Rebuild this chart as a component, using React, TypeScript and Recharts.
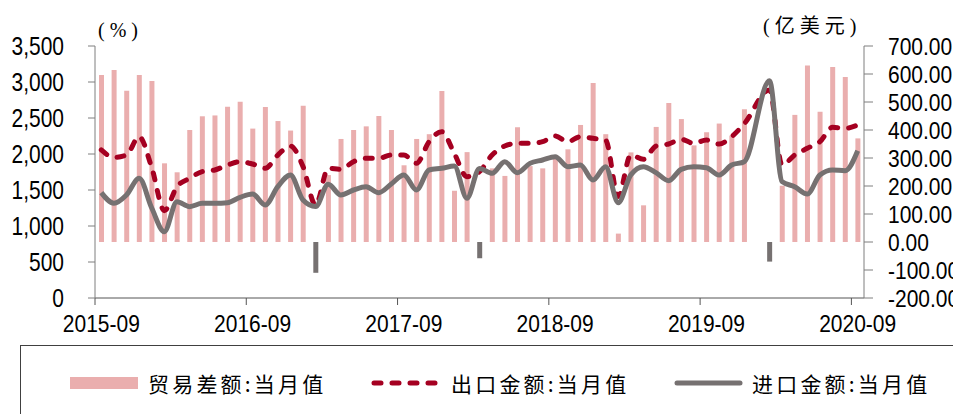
import React from "react";
import { ComposedChart, Bar, Line, XAxis, YAxis, Cell } from "recharts";

const months: string[] = [
  "2015-09","2015-10","2015-11","2015-12","2016-01","2016-02","2016-03","2016-04","2016-05","2016-06","2016-07","2016-08",
  "2016-09","2016-10","2016-11","2016-12","2017-01","2017-02","2017-03","2017-04","2017-05","2017-06","2017-07","2017-08",
  "2017-09","2017-10","2017-11","2017-12","2018-01","2018-02","2018-03","2018-04","2018-05","2018-06","2018-07","2018-08",
  "2018-09","2018-10","2018-11","2018-12","2019-01","2019-02","2019-03","2019-04","2019-05","2019-06","2019-07","2019-08",
  "2019-09","2019-10","2019-11","2019-12","2020-01","2020-02","2020-03","2020-04","2020-05","2020-06","2020-07","2020-08",
  "2020-09",
];

// 贸易差额:当月值 (亿美元, right axis)
const balance: (number | null)[] = [
  596, 614, 540, 596, 575, 281, 249, 400, 449, 452, 483, 501,
  405, 482, 432, 398, 487, -110, 239, 368, 400, 413, 450, 400,
  274, 368, 385, 539, 183, 321, -58, 263, 236, 410, 271, 263,
  310, 331, 418, 568, 385, 30, 320, 131, 411, 496, 439, 345,
  392, 423, 380, 474, null, -70, 201, 454, 630, 465, 625, 589,
  370,
];

// 出口金额:当月值 (left axis)
const exportsV: (number | null)[] = [
  2056, 1954, 1986, 2241, 1810, 1213, 1546, 1662, 1755, 1778, 1847, 1893,
  1861, 1801, 1986, 2111, 1826, 1290, 1801, 1787, 1893, 1940, 1940, 1986,
  1986, 1870, 2171, 2310, 2009, 1685, 1755, 1986, 2111, 2148, 2148, 2171,
  2250, 2171, 2241, 2218, 2194, 1410, 1986, 1926, 2111, 2139, 2204, 2148,
  2194, 2139, 2241, 2420, null, 2889, 1847, 1986, 2079, 2171, 2370, 2357,
  2403,
];

// 进口金额:当月值 (left axis)
const importsV: (number | null)[] = [
  1463, 1315, 1431, 1662, 1250, 921, 1338, 1269, 1315, 1315, 1324, 1398,
  1444, 1292, 1546, 1708, 1360, 1270, 1580, 1431, 1500, 1546, 1463, 1583,
  1708, 1500, 1778, 1801, 1833, 1384, 1800, 1731, 1893, 1741, 1870, 1917,
  1963, 1824, 1847, 1639, 1824, 1324, 1710, 1824, 1741, 1630, 1787, 1824,
  1810, 1708, 1847, 1893, null, 3019, 1616, 1546, 1444, 1708, 1778, 1768,
  2046,
];

const leftTicks = [0, 500, 1000, 1500, 2000, 2500, 3000, 3500];
const rightTicks = [-200, -100, 0, 100, 200, 300, 400, 500, 600, 700];

const data = months.map((m, i) => ({
  month: m,
  balance: balance[i],
  exp: exportsV[i],
  imp: importsV[i],
}));

const W = 953;
const H = 406;
const LEFT_W = 87;
const RIGHT_W = 97;
const PLOT_W = W - LEFT_W - RIGHT_W;
const HALF_BAND = PLOT_W / months.length / 2;

const BAR_C = "#EAAEAE";
const NEG_C = "#767171";
const EXP_C = "#A50021";
const IMP_C = "#767171";
const AXIS_Y = "#7f7f7f";
const AXIS_X = "#555555";
const NUM_FONT = "'Liberation Sans', Arial, sans-serif";
const CJK_FONT = "'Liberation Serif', 'Noto Sans CJK SC', serif";

const XTick = (props: any) => {
  const { x, y, payload } = props;
  return (
    <g>
      <line x1={x - HALF_BAND} x2={x - HALF_BAND} y1={y} y2={y + 7} stroke={AXIS_X} strokeWidth={1} />
      <text
        transform={`translate(${x},${y + 26}) scale(1,1.12)`}
        textAnchor="middle"
        dy="0.36em"
        fontSize={21}
        fontFamily={NUM_FONT}
        fill="#000"
      >
        {payload.value}
      </text>
    </g>
  );
};

const LeftTick = (props: any) => {
  const { x, y, payload } = props;
  return (
    <g>
      <line x1={x - 7} x2={x} y1={y} y2={y} stroke={AXIS_Y} strokeWidth={1} />
      <text
        transform={`translate(${x - 31},${y}) scale(1,1.2)`}
        textAnchor="end"
        dy="0.36em"
        fontSize={21}
        fontFamily={NUM_FONT}
        fill="#000"
      >
        {Number(payload.value).toLocaleString("en-US")}
      </text>
    </g>
  );
};

const RightTick = (props: any) => {
  const { x, y, payload } = props;
  return (
    <g>
      <line x1={x} x2={x + 9} y1={y} y2={y} stroke={AXIS_Y} strokeWidth={1} />
      <text
        transform={`translate(${x + 24},${y}) scale(1,1.18)`}
        textAnchor="start"
        dy="0.36em"
        fontSize={21}
        fontFamily={NUM_FONT}
        fill="#000"
      >
        {Number(payload.value).toFixed(2)}
      </text>
    </g>
  );
};

const legendText: React.CSSProperties = {
  position: "absolute",
  fontFamily: "'Noto Sans CJK SC', sans-serif",
  fontSize: 21,
  letterSpacing: 3.2,
  color: "#000",
  lineHeight: "26px",
  whiteSpace: "nowrap",
};

export default function App() {
  return (
    <div style={{ position: "relative", width: W, height: H, overflow: "hidden", background: "#fff" }}>
      <ComposedChart
        width={W}
        height={H}
        data={data}
        margin={{ top: 38, right: 0, left: 0, bottom: 76 }}
      >
        <XAxis
          dataKey="month"
          height={40}
          interval={11}
          tickSize={0}
          tickMargin={0}
          tickLine={false}
          tick={<XTick />}
          axisLine={{ stroke: AXIS_X, strokeWidth: 1 }}
        />
        <YAxis
          yAxisId="left"
          orientation="left"
          width={LEFT_W}
          domain={[0, 3500]}
          ticks={leftTicks}
          interval={0}
          tickSize={0}
          tickMargin={0}
          tickLine={false}
          tick={<LeftTick />}
          axisLine={{ stroke: AXIS_Y, strokeWidth: 1 }}
        />
        <YAxis
          yAxisId="right"
          orientation="right"
          width={RIGHT_W}
          domain={[-200, 700]}
          ticks={rightTicks}
          interval={0}
          tickSize={0}
          tickMargin={0}
          tickLine={false}
          tick={<RightTick />}
          axisLine={{ stroke: AXIS_Y, strokeWidth: 1 }}
        />
        <Bar yAxisId="right" dataKey="balance" fill={BAR_C} barSize={5} isAnimationActive={false}>
          {data.map((d, i) => (
            <Cell key={i} fill={d.balance !== null && d.balance < 0 ? NEG_C : BAR_C} />
          ))}
        </Bar>
        <Line
          yAxisId="left"
          dataKey="exp"
          type="monotone"
          stroke={EXP_C}
          strokeWidth={5}
          strokeDasharray="7 11"
          strokeLinecap="round"
          dot={false}
          activeDot={false}
          connectNulls
          isAnimationActive={false}
        />
        <Line
          yAxisId="left"
          dataKey="imp"
          type="monotone"
          stroke={IMP_C}
          strokeWidth={5}
          dot={false}
          activeDot={false}
          connectNulls
          isAnimationActive={false}
        />
      </ComposedChart>

      <div style={{ position: "absolute", left: 90, top: 9, fontFamily: CJK_FONT, fontSize: 20, letterSpacing: 5, lineHeight: "26px" }}>
        (%)
      </div>
      <div style={{ position: "absolute", left: 755, top: 5, fontFamily: CJK_FONT, fontSize: 20, letterSpacing: 5, lineHeight: "26px" }}>
        (亿美元)
      </div>

      <div
        style={{
          position: "absolute",
          left: 12,
          top: 337,
          width: 1000,
          height: 120,
          border: "1px solid #404040",
          boxSizing: "border-box",
        }}
      />
      <svg style={{ position: "absolute", left: 0, top: 0 }} width={W} height={H}>
        <rect x={62} y={369} width={68} height={12} fill={BAR_C} />
        <line x1={366} x2={434} y1={375} y2={375} stroke={EXP_C} strokeWidth={5} strokeDasharray="7 11" strokeLinecap="round" />
        <line x1={669} x2={732} y1={375} y2={375} stroke={IMP_C} strokeWidth={5} strokeLinecap="round" />
      </svg>
      <div style={{ ...legendText, left: 140, top: 362 }}>贸易差额:当月值</div>
      <div style={{ ...legendText, left: 443, top: 362 }}>出口金额:当月值</div>
      <div style={{ ...legendText, left: 744, top: 362 }}>进口金额:当月值</div>
    </div>
  );
}
